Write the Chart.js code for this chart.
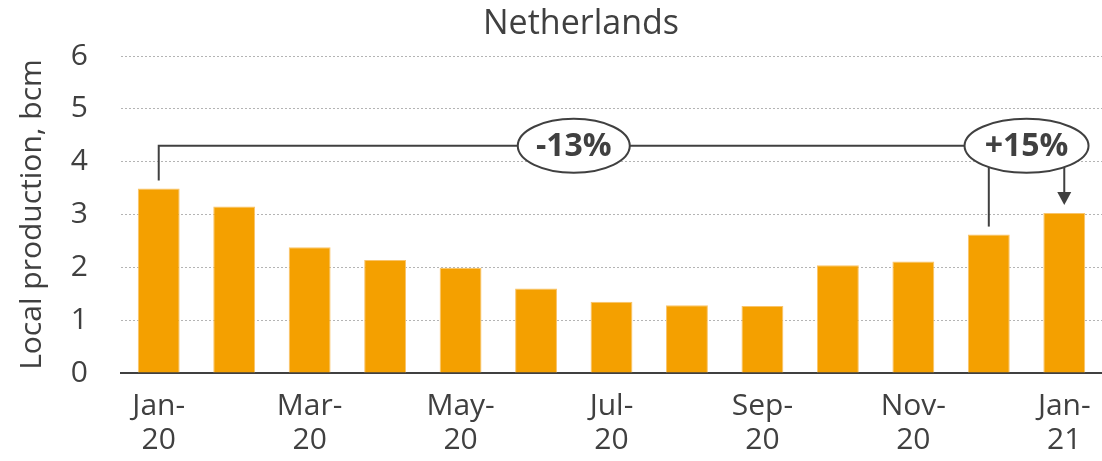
<!DOCTYPE html>
<html>
<head>
<meta charset="utf-8">
<script src="https://cdn.jsdelivr.net/npm/chart.js@4"></script>
<style>
  html, body { margin: 0; padding: 0; background: #fff; }
  #wrap { width: 1102px; height: 461px; }
</style>
</head>
<body>
<div id="wrap"><canvas id="bar-chart" width="1102" height="461"></canvas></div>
<script>
// chart data
var chartTitle = "Netherlands";
var yTitle = "Local production, bcm";
var months = [["Jan-", "20"], ["Feb-", "20"], ["Mar-", "20"], ["Apr-", "20"], ["May-", "20"], ["Jun-", "20"],
              ["Jul-", "20"], ["Aug-", "20"], ["Sep-", "20"], ["Oct-", "20"], ["Nov-", "20"], ["Dec-", "20"], ["Jan-", "21"]];
var production = [3.49, 3.15, 2.38, 2.14, 1.99, 1.60, 1.35, 1.28, 1.27, 2.04, 2.11, 2.62, 3.03];
var yTicks = [0, 1, 2, 3, 4, 5, 6];

// annotation: bracket level, bubble labels and where they sit (category index)
var bracketLevel = 4.3;
var bubbleText = ["-13%", "+15%"];
var bubbleAt = [5.5, 11.5];

var dark = "#404040";
var font = "'Open Sans', 'Noto Sans', sans-serif";

//draws the title and the -13% / +15% bracket
var annotationPlugin = {
    id: "annot",
    afterDatasetsDraw: function (chart) {
        var ctx = chart.ctx;
        var x = chart.scales.x, y = chart.scales.y;
        var yl = y.getPixelForValue(bracketLevel);
        var gap = 8;

        ctx.save();
        ctx.strokeStyle = dark;
        ctx.lineWidth = 2;

        // bracket line from Jan-20 to the +15% bubble
        var x0 = x.getPixelForValue(0);
        ctx.beginPath();
        ctx.moveTo(x0, y.getPixelForValue(production[0]) - gap);
        ctx.lineTo(x0, yl);
        ctx.lineTo(x.getPixelForValue(bubbleAt[1]), yl);
        ctx.stroke();

        // line from Dec-20 up to bubble
        var xd = x.getPixelForValue(11);
        ctx.beginPath();
        ctx.moveTo(xd, y.getPixelForValue(production[11]) - gap);
        ctx.lineTo(xd, yl);
        ctx.stroke();

        // arrow down to Jan-21
        var xj = x.getPixelForValue(12);
        var tip = y.getPixelForValue(production[12]) - gap;
        ctx.beginPath();
        ctx.moveTo(xj, yl);
        ctx.lineTo(xj, tip - 10);
        ctx.stroke();
        ctx.fillStyle = dark;
        ctx.beginPath();
        ctx.moveTo(xj - 7, tip - 13);
        ctx.lineTo(xj + 7, tip - 13);
        ctx.lineTo(xj, tip);
        ctx.closePath();
        ctx.fill();

        // bubbles
        var radii = [56, 62];
        for (var i = 0; i < bubbleText.length; i++) {
            var cx = x.getPixelForValue(bubbleAt[i]);
            ctx.beginPath();
            ctx.ellipse(cx, yl, radii[i], 27, 0, 0, Math.PI * 2);
            ctx.fillStyle = "#fff";
            ctx.fill();
            ctx.stroke();
            ctx.fillStyle = dark;
            ctx.font = "bold 32px " + font;
            ctx.textAlign = "center";
            ctx.textBaseline = "middle";
            ctx.fillText(bubbleText[i], cx, yl + 1);
        }

        // title
        ctx.font = "34px " + font;
        ctx.fillStyle = dark;
        ctx.textAlign = "center";
        ctx.textBaseline = "middle";
        ctx.fillText(chartTitle, 581, 24);
        ctx.restore();
    }
};

var bar_chart = new Chart(document.getElementById("bar-chart"), {
    type: "bar",
    data: {
        labels: months,
        datasets: [{
            label: "Local production",
            data: production,
            backgroundColor: "#F4A000",
            borderColor: "#F9C46A",
            borderWidth: 1,
            barPercentage: 0.555,
            categoryPercentage: 1
        }]
    },
    options: {
        responsive: false,
        animation: false,
        devicePixelRatio: 1,
        layout: { padding: { top: 56, right: -7, left: 0, bottom: 0 } },
        plugins: {
            legend: { display: false },
            tooltip: { enabled: false }
        },
        scales: {
            x: {
                grid: { display: false },
                border: { display: true, color: dark, width: 2 },
                ticks: {
                    autoSkip: false,
                    maxRotation: 0,
                    color: dark,
                    font: { family: font, size: 30, lineHeight: 1.15 },
                    padding: 8,
                    callback: function (val, idx) {
                        return idx % 2 === 0 ? months[idx] : "";
                    }
                },
                afterFit: function (scale) { scale.height = 88; }
            },
            y: {
                min: 0,
                max: 6,
                afterBuildTicks: function (scale) {
                    scale.ticks = yTicks.map(function (v) { return { value: v }; });
                },
                grid: { color: "#b4b4b4", lineWidth: 1, drawTicks: false },
                border: { display: false, dash: [2, 2] },
                ticks: {
                    color: dark,
                    font: { family: font, size: 30 },
                    padding: 33
                },
                title: {
                    display: true,
                    text: yTitle,
                    color: dark,
                    font: { family: font, size: 30, lineHeight: 1.2 },
                    padding: { top: 14, bottom: 0 }
                },
                afterFit: function (scale) { scale.width = 121; }
            }
        }
    },
    plugins: [annotationPlugin]
});
</script>
</body>
</html>
